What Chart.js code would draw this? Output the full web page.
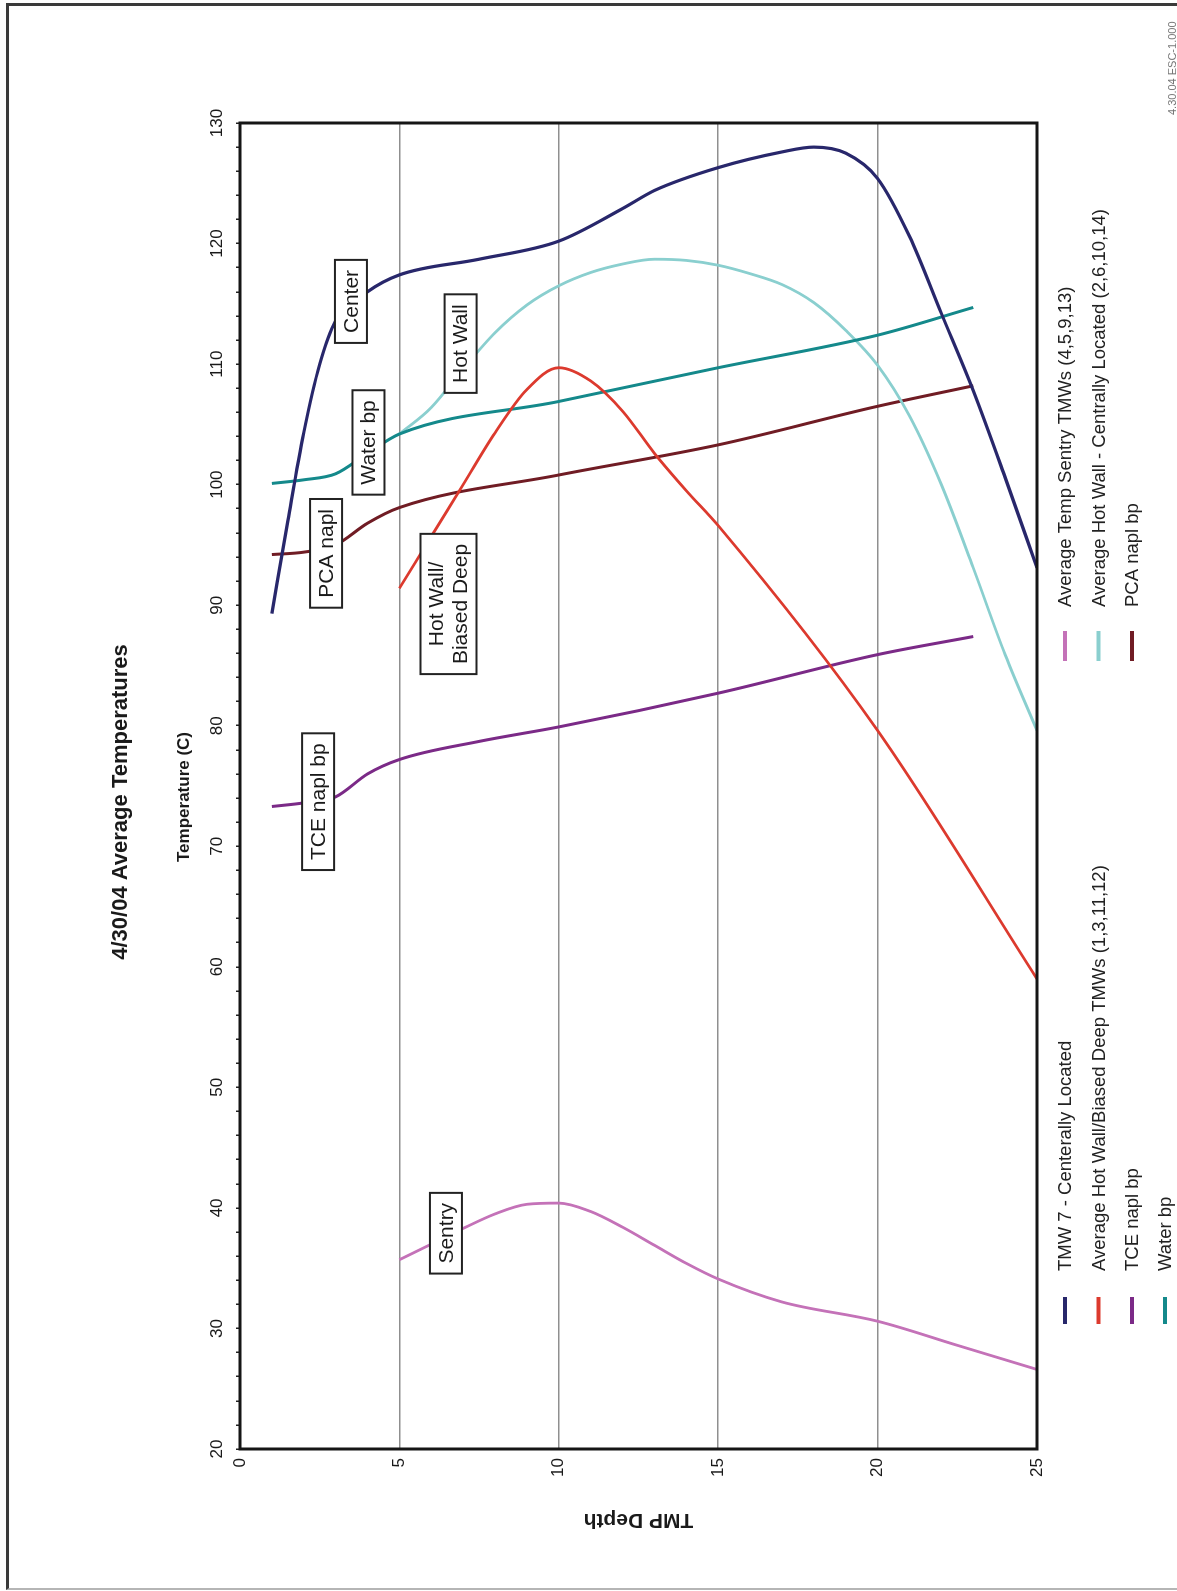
<!DOCTYPE html>
<html><head><meta charset="utf-8">
<script src="https://cdn.jsdelivr.net/npm/chart.js@4.4.1/dist/chart.umd.min.js"></script>
<style>
html,body{margin:0;padding:0;background:#fff;width:1177px;height:1591px;overflow:hidden;}
#frame{position:absolute;left:6px;top:3px;width:1200px;height:1587px;border-left:3px solid #3a3a3a;border-top:3px solid #3a3a3a;border-bottom:2px solid #b5b5b5;box-sizing:border-box;}
#rot{position:absolute;left:0;top:0;width:1591px;height:1177px;transform-origin:0 0;transform:translateY(1591px) rotate(-90deg);}
canvas{display:block;}
</style></head><body>
<div id="frame"></div>
<div id="rot"><canvas id="c" width="1591" height="1177"></canvas></div>
<script>
// ---- data (temperature in C vs TMP depth) ----
const tmw7Depth = [1, 1.5, 2, 2.5, 3, 4, 5, 7.5, 10, 12, 13, 15, 17, 18, 19, 20, 21, 22, 23, 24, 25];
const tmw7Temp  = [89.3, 97.0, 104.3, 110.0, 113.6, 116.0, 117.4, 118.7, 120.2, 122.9, 124.4, 126.3, 127.6, 128.0, 127.5, 125.4, 120.6, 114.2, 107.8, 100.6, 93.1];

const hwbdDepth = [5, 6, 7, 8, 9, 10, 11, 12, 13, 14, 15, 20, 25];
const hwbdTemp  = [91.4, 95.7, 100.0, 104.3, 107.9, 109.7, 108.6, 106.1, 102.6, 99.5, 96.6, 79.6, 59.0];

const tceDepth = [1, 2, 3, 4, 5, 7.5, 10, 15, 20, 23];
const tceTemp  = [73.3, 73.6, 74.1, 76.0, 77.2, 78.7, 79.9, 82.7, 85.9, 87.4];

const waterDepth = [1, 2, 3, 4, 5, 10, 15, 20, 23];
const waterTemp  = [100.1, 100.4, 100.9, 102.6, 104.2, 106.9, 109.7, 112.4, 114.7];

const sentryDepth = [5, 6, 7, 8, 9, 10, 11, 12, 13, 14, 15, 17, 20, 22.5, 25];
const sentryTemp  = [35.7, 37.0, 38.3, 39.5, 40.3, 40.4, 39.7, 38.4, 36.9, 35.4, 34.1, 32.2, 30.6, 28.6, 26.6];

const hwcDepth = [5, 6, 7, 8, 9, 10, 11, 12, 13, 14, 15, 16, 17, 18, 19, 20, 21, 22, 23, 24, 25];
const hwcTemp  = [104.2, 106.4, 109.6, 112.6, 114.9, 116.5, 117.6, 118.3, 118.7, 118.6, 118.2, 117.5, 116.6, 115.1, 112.8, 109.9, 105.7, 100.0, 93.1, 85.9, 79.6];

const pcaDepth = [1, 2, 3, 4, 5, 10, 15, 20, 23];
const pcaTemp  = [94.2, 94.4, 95.0, 96.8, 98.1, 100.8, 103.3, 106.5, 108.2];

const seriesLabels = [
  'TMW 7 - Centerally Located',
  'Average Hot Wall/Biased Deep TMWs (1,3,11,12)',
  'TCE napl bp',
  'Water bp',
  'Average Temp Sentry TMWs (4,5,9,13)',
  'Average Hot Wall - Centrally Located (2,6,10,14)',
  'PCA napl bp'
];
const seriesDepths = [tmw7Depth, hwbdDepth, tceDepth, waterDepth, sentryDepth, hwcDepth, pcaDepth];
const seriesTemps  = [tmw7Temp, hwbdTemp, tceTemp, waterTemp, sentryTemp, hwcTemp, pcaTemp];

const tempTickStep = 2, tempLabelStep = 10, depthTickStep = 5;

// curve labels (anchored in data units)
const noteText  = ['Center', 'Water bp', 'Hot Wall', 'PCA napl', 'Hot Wall/\nBiased Deep', 'TCE napl bp', 'Sentry'];
const noteTemp  = [115.2, 103.5, 111.7, 94.3, 90.1, 73.7, 37.9];
const noteDepth = [3.48, 4.03, 6.92, 2.70, 6.54, 2.45, 6.46];

// ---- styles ----
const FONT = "'Liberation Sans', Arial, Helvetica, sans-serif";
const colors = ['#28276b', '#dc3a2e', '#7b2a87', '#14898b', '#c472b8', '#8acfcf', '#701c24'];
const widths = [3.2, 2.8, 3, 3, 2.8, 2.8, 3];

const datasets = seriesLabels.map((lab, i) => ({
  label: lab,
  data: seriesDepths[i].map((d, j) => ({ x: seriesTemps[i][j], y: d })),
  borderColor: colors[i],
  backgroundColor: colors[i],
  borderWidth: widths[i],
  pointRadius: 0,
  fill: false,
  cubicInterpolationMode: 'monotone'
}));

const decor = {
  id: 'decor',
  afterDatasetsDraw(chart) {
    const { ctx, chartArea: a, scales: { x, y } } = chart;
    ctx.save();
    ctx.strokeStyle = '#151515';
    ctx.lineWidth = 3;
    ctx.strokeRect(a.left, a.top, a.right - a.left, a.bottom - a.top);
    ctx.font = `21px ${FONT}`;
    ctx.textAlign = 'center';
    ctx.textBaseline = 'middle';
    noteText.forEach((t, i) => {
      const lines = t.split('\n');
      const lh = 24;
      const w = Math.max(...lines.map(l => ctx.measureText(l).width)) + 20;
      const h = lines.length * lh + 8;
      const cx = x.getPixelForValue(noteTemp[i]);
      const cy = y.getPixelForValue(noteDepth[i]);
      ctx.fillStyle = '#fff';
      ctx.fillRect(cx - w / 2, cy - h / 2, w, h);
      ctx.lineWidth = 2;
      ctx.strokeStyle = '#222';
      ctx.strokeRect(cx - w / 2, cy - h / 2, w, h);
      ctx.fillStyle = '#1a1a1a';
      lines.forEach((l, k) => ctx.fillText(l, cx, cy - (lines.length - 1) * lh / 2 + k * lh + 1));
    });
    ctx.restore();
  },
  afterDraw(chart) {
    const { ctx, chartArea: a } = chart;
    ctx.save();
    ctx.fillStyle = '#1a1a1a';
    ctx.textAlign = 'center';
    ctx.textBaseline = 'middle';
    // chart title
    ctx.font = `bold 22px ${FONT}`;
    ctx.fillText('4/30/04 Average Temperatures', 789, 121);
    // temperature axis title
    ctx.font = `bold 17px ${FONT}`;
    ctx.fillText('Temperature (C)', 794, 184);
    // depth axis title
    ctx.save();
    ctx.translate(71, (a.top + a.bottom) / 2);
    ctx.rotate(-Math.PI / 2);
    ctx.font = `bold 21px ${FONT}`;
    ctx.fillText('TMP Depth', 0, 0);
    ctx.restore();
    // legend: two columns
    const rows = [1065, 1098.5, 1132, 1165];
    const cols = [{ m0: 267, m1: 294, t: 320 }, { m0: 930, m1: 960, t: 984 }];
    ctx.font = `18.5px ${FONT}`;
    ctx.textAlign = 'left';
    chart.data.datasets.forEach((ds, i) => {
      const c = cols[i < 4 ? 0 : 1];
      const v = rows[i < 4 ? i : i - 4];
      ctx.strokeStyle = ds.borderColor;
      ctx.lineWidth = 4;
      ctx.beginPath();
      ctx.moveTo(c.m0, v);
      ctx.lineTo(c.m1, v);
      ctx.stroke();
      ctx.fillStyle = '#222';
      ctx.fillText(ds.label, c.t, v + 1);
    });
    // document id
    ctx.font = `11px ${FONT}`;
    ctx.fillStyle = '#777';
    ctx.textAlign = 'left';
    ctx.fillText('4.30.04 ESC-1.000', 1476, 1173);
    ctx.restore();
  }
};

new Chart(document.getElementById('c'), {
  type: 'line',
  data: { datasets },
  options: {
    responsive: false,
    animation: false,
    indexAxis: 'y',
    layout: { padding: { left: 102, right: 123, top: 200, bottom: 140 } },
    plugins: { legend: { display: false }, title: { display: false }, tooltip: { enabled: false } },
    scales: {
      x: {
        type: 'linear', position: 'top', min: 20, max: 130,
        afterFit: s => { s.height = 40; },
        ticks: {
          stepSize: tempTickStep, maxTicksLimit: 200, autoSkip: false, maxRotation: 0, padding: 8,
          color: '#1a1a1a', font: { family: FONT, size: 17 },
          callback: v => (v % tempLabelStep === 0 ? String(v) : '')
        },
        grid: { display: true, drawOnChartArea: false, drawTicks: true, tickLength: 4, color: '#222', lineWidth: 1.5 },
        border: { display: false }
      },
      y: {
        type: 'linear', position: 'left', min: 0, max: 25, reverse: true,
        afterFit: s => { s.width = 40; },
        ticks: { stepSize: depthTickStep, padding: 9, color: '#1a1a1a', font: { family: FONT, size: 17 } },
        grid: { color: '#8f8f8f', lineWidth: 1.6, drawTicks: false },
        border: { display: false }
      }
    }
  },
  plugins: [decor]
});
</script>
</body></html>
